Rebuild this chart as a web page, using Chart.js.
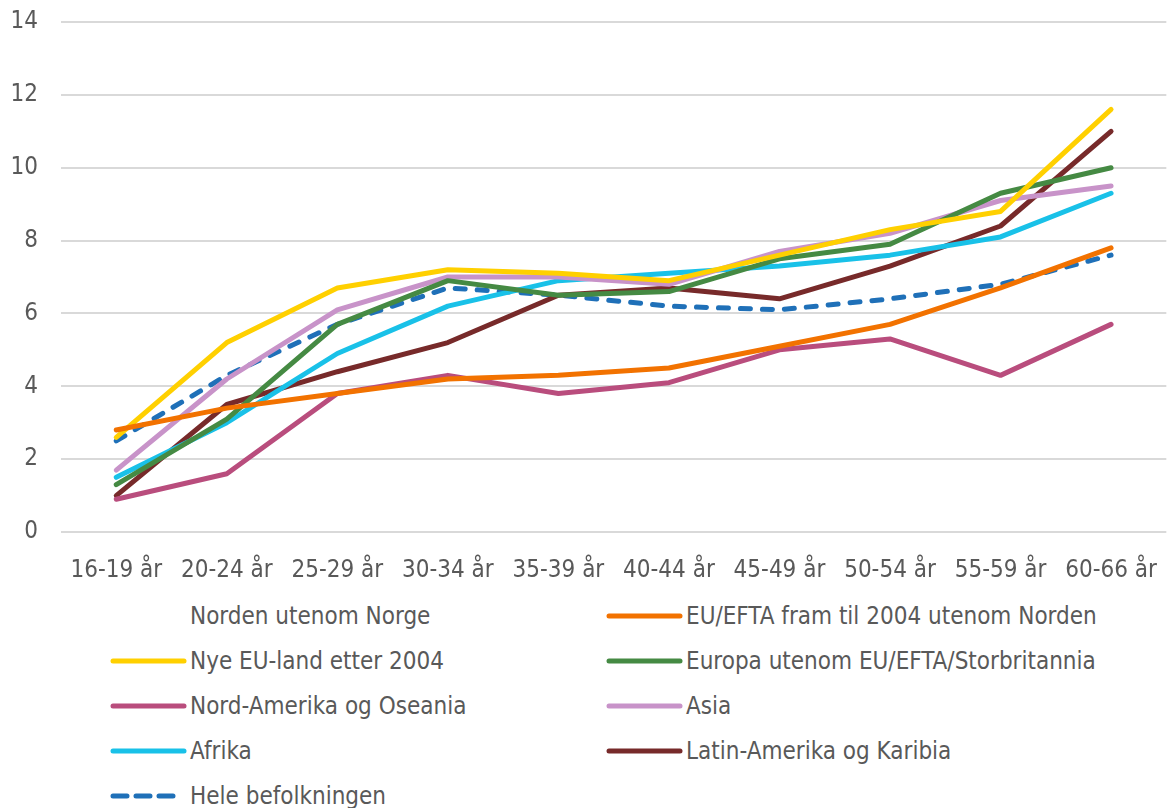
<!DOCTYPE html>
<html>
<head>
<meta charset="utf-8">
<script src="https://cdn.jsdelivr.net/npm/chart.js@4.4.1/dist/chart.umd.min.js"></script>
<style>
  html, body { margin: 0; padding: 0; background: #fff; }
  #wrap { position: relative; width: 1173px; height: 808px; }
  #chartBox { position: absolute; left: 0; top: 0; width: 1173px; height: 590px; }
  #legend { position: absolute; left: 0; top: 595px; width: 1173px; height: 213px;
    font-family: "DejaVu Sans Condensed", "DejaVu Sans", sans-serif; font-size: 24px; color: #595959; }
  .item { position: absolute; height: 28px; line-height: 28px; white-space: nowrap; }
  .item svg { position: absolute; left: 0; top: 9px; }
  .item span { position: absolute; top: 0; }
</style>
</head>
<body>
<div id="wrap">
  <div id="chartBox"><canvas id="lineChart"></canvas></div>
  <div id="legend"></div>
</div>
<script>
var ageGroups = ['16-19 år', '20-24 år', '25-29 år', '30-34 år', '35-39 år',
                 '40-44 år', '45-49 år', '50-54 år', '55-59 år', '60-66 år'];
var yTicks = [0, 2, 4, 6, 8, 10, 12, 14];

// Norden has no values in this chart, only a legend entry
var norden = [];
var euEfta = [2.8, 3.4, 3.8, 4.2, 4.3, 4.5, 5.1, 5.7, 6.7, 7.8];
var nyeEu = [2.6, 5.2, 6.7, 7.2, 7.1, 6.9, 7.6, 8.3, 8.8, 11.6];
var europa = [1.3, 3.1, 5.7, 6.9, 6.5, 6.6, 7.5, 7.9, 9.3, 10.0];
var nordAmerika = [0.9, 1.6, 3.8, 4.3, 3.8, 4.1, 5.0, 5.3, 4.3, 5.7];
var asia = [1.7, 4.2, 6.1, 7.0, 7.0, 6.8, 7.7, 8.2, 9.1, 9.5];
var afrika = [1.5, 3.0, 4.9, 6.2, 6.9, 7.1, 7.3, 7.6, 8.1, 9.3];
var latinAmerika = [1.0, 3.5, 4.4, 5.2, 6.5, 6.7, 6.4, 7.3, 8.4, 11.0];
var heleBefolkningen = [2.5, 4.3, 5.7, 6.7, 6.5, 6.2, 6.1, 6.4, 6.8, 7.6];

function line(label, data, color, dash) {
    return {
        label: label,
        data: data,
        borderColor: color,
        backgroundColor: color,
        borderWidth: 5,
        borderDash: dash || [],
        borderCapStyle: 'round',
        borderJoinStyle: 'round',
        pointRadius: 0,
        tension: 0,
        fill: false
    };
}

var datasets = [
    line('Norden utenom Norge', norden, 'rgba(0,0,0,0)'),
    line('EU/EFTA fram til 2004 utenom Norden', euEfta, '#F27200'),
    line('Nye EU-land etter 2004', nyeEu, '#FFD000'),
    line('Europa utenom EU/EFTA/Storbritannia', europa, '#458A43'),
    line('Nord-Amerika og Oseania', nordAmerika, '#B94D7D'),
    line('Asia', asia, '#C893C9'),
    line('Afrika', afrika, '#19C1E8'),
    line('Latin-Amerika og Karibia', latinAmerika, '#772A2A'),
    line('Hele befolkningen', heleBefolkningen, '#1F70B8', [10, 12])
];

Chart.defaults.font.family = '"DejaVu Sans Condensed", "DejaVu Sans", sans-serif';
Chart.defaults.font.size = 24;
Chart.defaults.color = '#595959';

var ctx = document.getElementById('lineChart').getContext('2d');
var myChart = new Chart(ctx, {
    type: 'line',
    data: {
        labels: ageGroups,
        datasets: datasets
    },
    options: {
        responsive: true,
        maintainAspectRatio: false,
        animation: false,
        layout: { padding: { top: 22, right: 2, left: 0, bottom: 0 } },
        plugins: {
            legend: { display: false },
            tooltip: { enabled: false }
        },
        scales: {
            x: {
                offset: true,
                grid: { display: false },
                border: { display: false },
                ticks: { padding: 16, maxRotation: 0 },
                afterFit: function (scale) { scale.height = 58; }
            },
            y: {
                min: 0,
                max: 14,
                afterBuildTicks: function (scale) {
                    scale.ticks = yTicks.map(function (v) { return { value: v }; });
                },
                grid: { color: '#D9D9D9', lineWidth: 2, drawTicks: false },
                border: { display: false },
                ticks: { padding: 23 },
                afterFit: function (scale) {
                    scale.width = 61;
                    // top/bottom room is set by layout padding, not by the labels
                    scale.paddingTop = 0;
                    scale.paddingBottom = 0;
                }
            }
        }
    }
});

// legend in two columns under the chart
var legend = document.getElementById('legend');
datasets.forEach(function (ds, i) {
    var col = i % 2, row = Math.floor(i / 2);
    var item = document.createElement('div');
    item.className = 'item';
    item.style.left = (col === 0 ? 110 : 606) + 'px';
    item.style.top = (row * 45 + 7) + 'px';
    var svg = '<svg width="80" height="10">';
    if (ds.data.length) {
        svg += '<line x1="3" y1="5" x2="' + (ds.borderDash.length ? 66 : 74) + '" y2="5" stroke="' + ds.borderColor +
            '" stroke-width="5" stroke-linecap="round"' +
            (ds.borderDash.length ? ' stroke-dasharray="14 9"' : '') + '/>';
    }
    svg += '</svg>';
    item.innerHTML = svg + '<span style="left:80px">' + ds.label + '</span>';
    legend.appendChild(item);
});
</script>
</body>
</html>
